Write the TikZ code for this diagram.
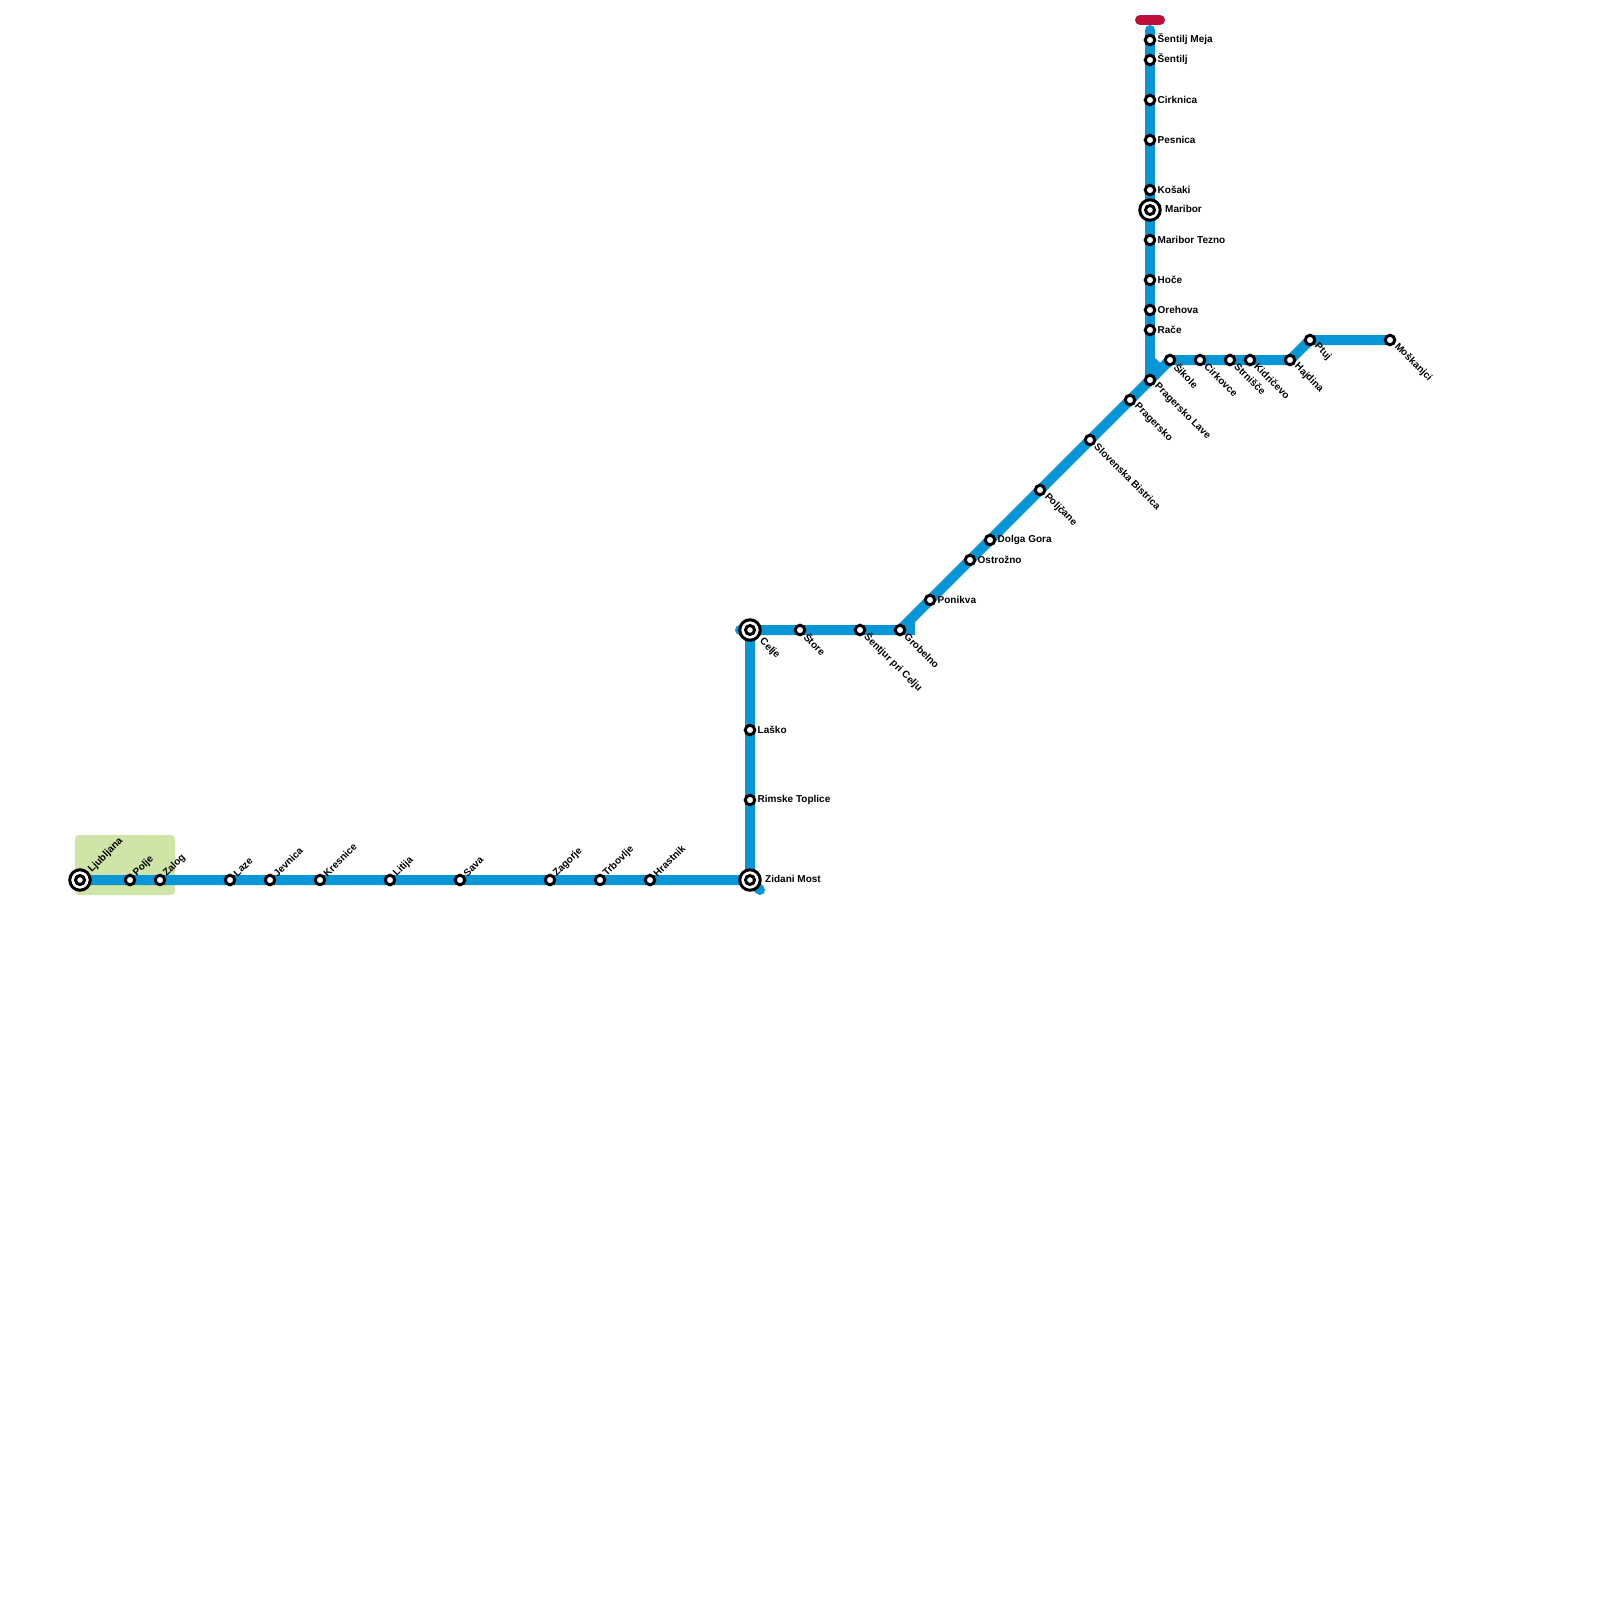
\documentclass[tikz,border=0pt]{standalone}
\usepackage{fontspec}
\setmainfont{Liberation Sans}
\usepackage{xcolor}
\usepackage{tikz}
\usetikzlibrary{backgrounds}
\definecolor{myblue}{RGB}{8,150,215}
\definecolor{myred}{RGB}{189,16,56}
\definecolor{mygreen}{RGB}{207,228,167}
\tikzset{
  station/.style={circle, draw=black, fill=white, inner sep=0pt, outer sep=0pt,
    minimum size=9.5pt, line width=3pt},
  hub/.style={circle, draw=black, fill=white, inner sep=0pt, outer sep=0pt,
    minimum size=20.5pt, line width=3pt},
  hubcore/.style={circle, draw=black, fill=white, inner sep=0pt, outer sep=0pt,
    minimum size=9pt, line width=3pt},
  labeltext/.style={anchor=west, inner sep=0pt, text=black,
    font=\fontsize{10}{12}\selectfont\bfseries},
  rightlabel/.style={labeltext, xshift=-0.5pt, yshift=-0.5pt},
  uplabel/.style={labeltext, xshift=2pt, yshift=1pt, rotate=45},
  downlabel/.style={labeltext, xshift=1pt, rotate=-45},
  railline/.style={color=myblue, line width=10pt},
  stub/.style={railline, line cap=round}
}
\begin{document}
\begin{tikzpicture}[x=1pt, y=-1pt]
  \useasboundingbox (0,0) rectangle (1600,1600);

  % Ljubljana to Zidani Most
  \node[hub] (ljubljana) at (80,880) {};
  \node[hubcore] (ljubljanacore) at (80,880) {};
  \node[station] (polje) at (130,880) {};
  \node[station] (zalog) at (160,880) {};
  \node[station] (laze) at (230,880) {};
  \node[station] (jevnica) at (270,880) {};
  \node[station] (kresnice) at (320,880) {};
  \node[station] (litija) at (390,880) {};
  \node[station] (sava) at (460,880) {};
  \node[station] (zagorje) at (550,880) {};
  \node[station] (trbovlje) at (600,880) {};
  \node[station] (hrastnik) at (650,880) {};
  \node[hub] (zidani) at (750,880) {};
  \node[hubcore] (zidanicore) at (750,880) {};

  % Zidani Most to Grobelno
  \node[station] (rimske) at (750,800) {};
  \node[station] (lasko) at (750,730) {};
  \node[hub] (celje) at (750,630) {};
  \node[hubcore] (celjecore) at (750,630) {};
  \node[station] (store) at (800,630) {};
  \node[station] (sentjur) at (860,630) {};
  \node[station] (grobelno) at (900,630) {};

  % Diagonal
  \node[station] (ponikva) at (930,600) {};
  \node[station] (ostrozno) at (970,560) {};
  \node[station] (dolgagora) at (990,540) {};
  \node[station] (poljcane) at (1040,490) {};
  \node[station] (bistrica) at (1090,440) {};
  \node[station] (pragersko) at (1130,400) {};
  \node[station] (lave) at (1150,380) {};

  % Branch to Moskanjci
  \node[station] (sikole) at (1170,360) {};
  \node[station] (cirkovce) at (1200,360) {};
  \node[station] (strnisce) at (1230,360) {};
  \node[station] (kidricevo) at (1250,360) {};
  \node[station] (hajdina) at (1290,360) {};
  \node[station] (ptuj) at (1310,340) {};
  \node[station] (moskanjci) at (1390,340) {};

  % North to Sentilj
  \node[station] (race) at (1150,330) {};
  \node[station] (orehova) at (1150,310) {};
  \node[station] (hoce) at (1150,280) {};
  \node[station] (tezno) at (1150,240) {};
  \node[hub] (maribor) at (1150,210) {};
  \node[hubcore] (mariborcore) at (1150,210) {};
  \node[station] (kosaki) at (1150,190) {};
  \node[station] (pesnica) at (1150,140) {};
  \node[station] (cirknica) at (1150,100) {};
  \node[station] (sentilj) at (1150,60) {};
  \node[station] (meja) at (1150,40) {};

  % Free ends
  \coordinate (celjeend) at (740,630);
  \coordinate (zidaniend) at (760,890);
  \coordinate (groblock) at (910,630);
  \coordinate (groblocktop) at (910,622);
  \coordinate (lavea) at (1150,360);
  \coordinate (laveb) at (1160,370);
  \coordinate (topend) at (1150,30);
  \coordinate (bufferl) at (1140,20);
  \coordinate (bufferr) at (1160,20);

  % Lines and city area
  \begin{scope}[on background layer]
    \fill[color=mygreen, rounded corners=4pt] (75,835) rectangle (175,895);
    \draw[railline] (ljubljana.center) -- (zidani.center) -- (celje.center) -- (grobelno.center)
      -- (lave.center) -- (sikole.center) -- (hajdina.center) -- (ptuj.center) -- (moskanjci.center);
    \draw[railline] (lave.center) -- (meja.center);
    \draw[railline] (grobelno.center) -- (groblock) -- (groblocktop);
    \draw[railline] (lavea) -- (laveb);
    \draw[stub] (meja.center) -- (topend);
    \draw[stub] (zidani.center) -- (zidaniend);
    \draw[stub] (celje.center) -- (celjeend);
    \draw[color=myred, line width=10pt, line cap=round] (bufferl) -- (bufferr);
  \end{scope}

  % Labels
  \node[uplabel] (ljubljanatxt) at (88,872) {Ljubljana};
  \node[uplabel] (poljetxt) at (133,876) {Polje};
  \node[uplabel] (zalogtxt) at (163,876) {Zalog};
  \node[uplabel] (lazetxt) at (233,876) {Laze};
  \node[uplabel] (jevnicatxt) at (273,876) {Jevnica};
  \node[uplabel] (kresnicetxt) at (323,876) {Kresnice};
  \node[uplabel] (litijatxt) at (393,876) {Litija};
  \node[uplabel] (savatxt) at (463,876) {Sava};
  \node[uplabel] (zagorjetxt) at (553,876) {Zagorje};
  \node[uplabel] (trbovljetxt) at (603,876) {Trbovlje};
  \node[uplabel] (hrastniktxt) at (653,876) {Hrastnik};
  \node[labeltext] (zidanitxt) at (765,879) {Zidani Most};

  \node[rightlabel] (rimsketxt) at (758,799) {Rimske Toplice};
  \node[rightlabel] (laskotxt) at (758,729) {Laško};
  \node[downlabel] (celjetxt) at (760,640) {Celje};
  \node[downlabel] (storetxt) at (805,635) {Štore};
  \node[downlabel] (sentjurtxt) at (865,635) {Šentjur pri Celju};
  \node[downlabel] (grobelnotxt) at (905,635) {Grobelno};

  \node[rightlabel] (ponikvatxt) at (938,599) {Ponikva};
  \node[rightlabel] (ostroznotxt) at (978,559) {Ostrožno};
  \node[rightlabel] (dolgagoratxt) at (998,539) {Dolga Gora};
  \node[downlabel] (poljcanetxt) at (1045,495) {Poljčane};
  \node[downlabel] (bistricatxt) at (1095,445) {Slovenska Bistrica};
  \node[downlabel] (pragerskotxt) at (1135,405) {Pragersko};
  \node[downlabel] (lavetxt) at (1155,385) {Pragersko Lave};

  \node[downlabel] (sikoletxt) at (1175,365) {Šikole};
  \node[downlabel] (cirkovcetxt) at (1205,365) {Cirkovce};
  \node[downlabel] (strniscetxt) at (1235,365) {Strnišče};
  \node[downlabel] (kidricevotxt) at (1255,365) {Kidričevo};
  \node[downlabel] (hajdinatxt) at (1295,365) {Hajdina};
  \node[downlabel] (ptujtxt) at (1315,345) {Ptuj};
  \node[downlabel] (moskanjcitxt) at (1395,345) {Moškanjci};

  \node[rightlabel] (racetxt) at (1158,329) {Rače};
  \node[rightlabel] (orehovatxt) at (1158,309) {Orehova};
  \node[rightlabel] (hocetxt) at (1158,279) {Hoče};
  \node[rightlabel] (teznotxt) at (1158,239) {Maribor Tezno};
  \node[labeltext] (mariborxt) at (1165,209) {Maribor};
  \node[rightlabel] (kosakitxt) at (1158,189) {Košaki};
  \node[rightlabel] (pesnicatxt) at (1158,139) {Pesnica};
  \node[rightlabel] (cirknicatxt) at (1158,99) {Cirknica};
  \node[rightlabel] (sentiljtxt) at (1158,59) {Šentilj};
  \node[rightlabel] (mejatxt) at (1158,39) {Šentilj Meja};
\end{tikzpicture}
\end{document}
